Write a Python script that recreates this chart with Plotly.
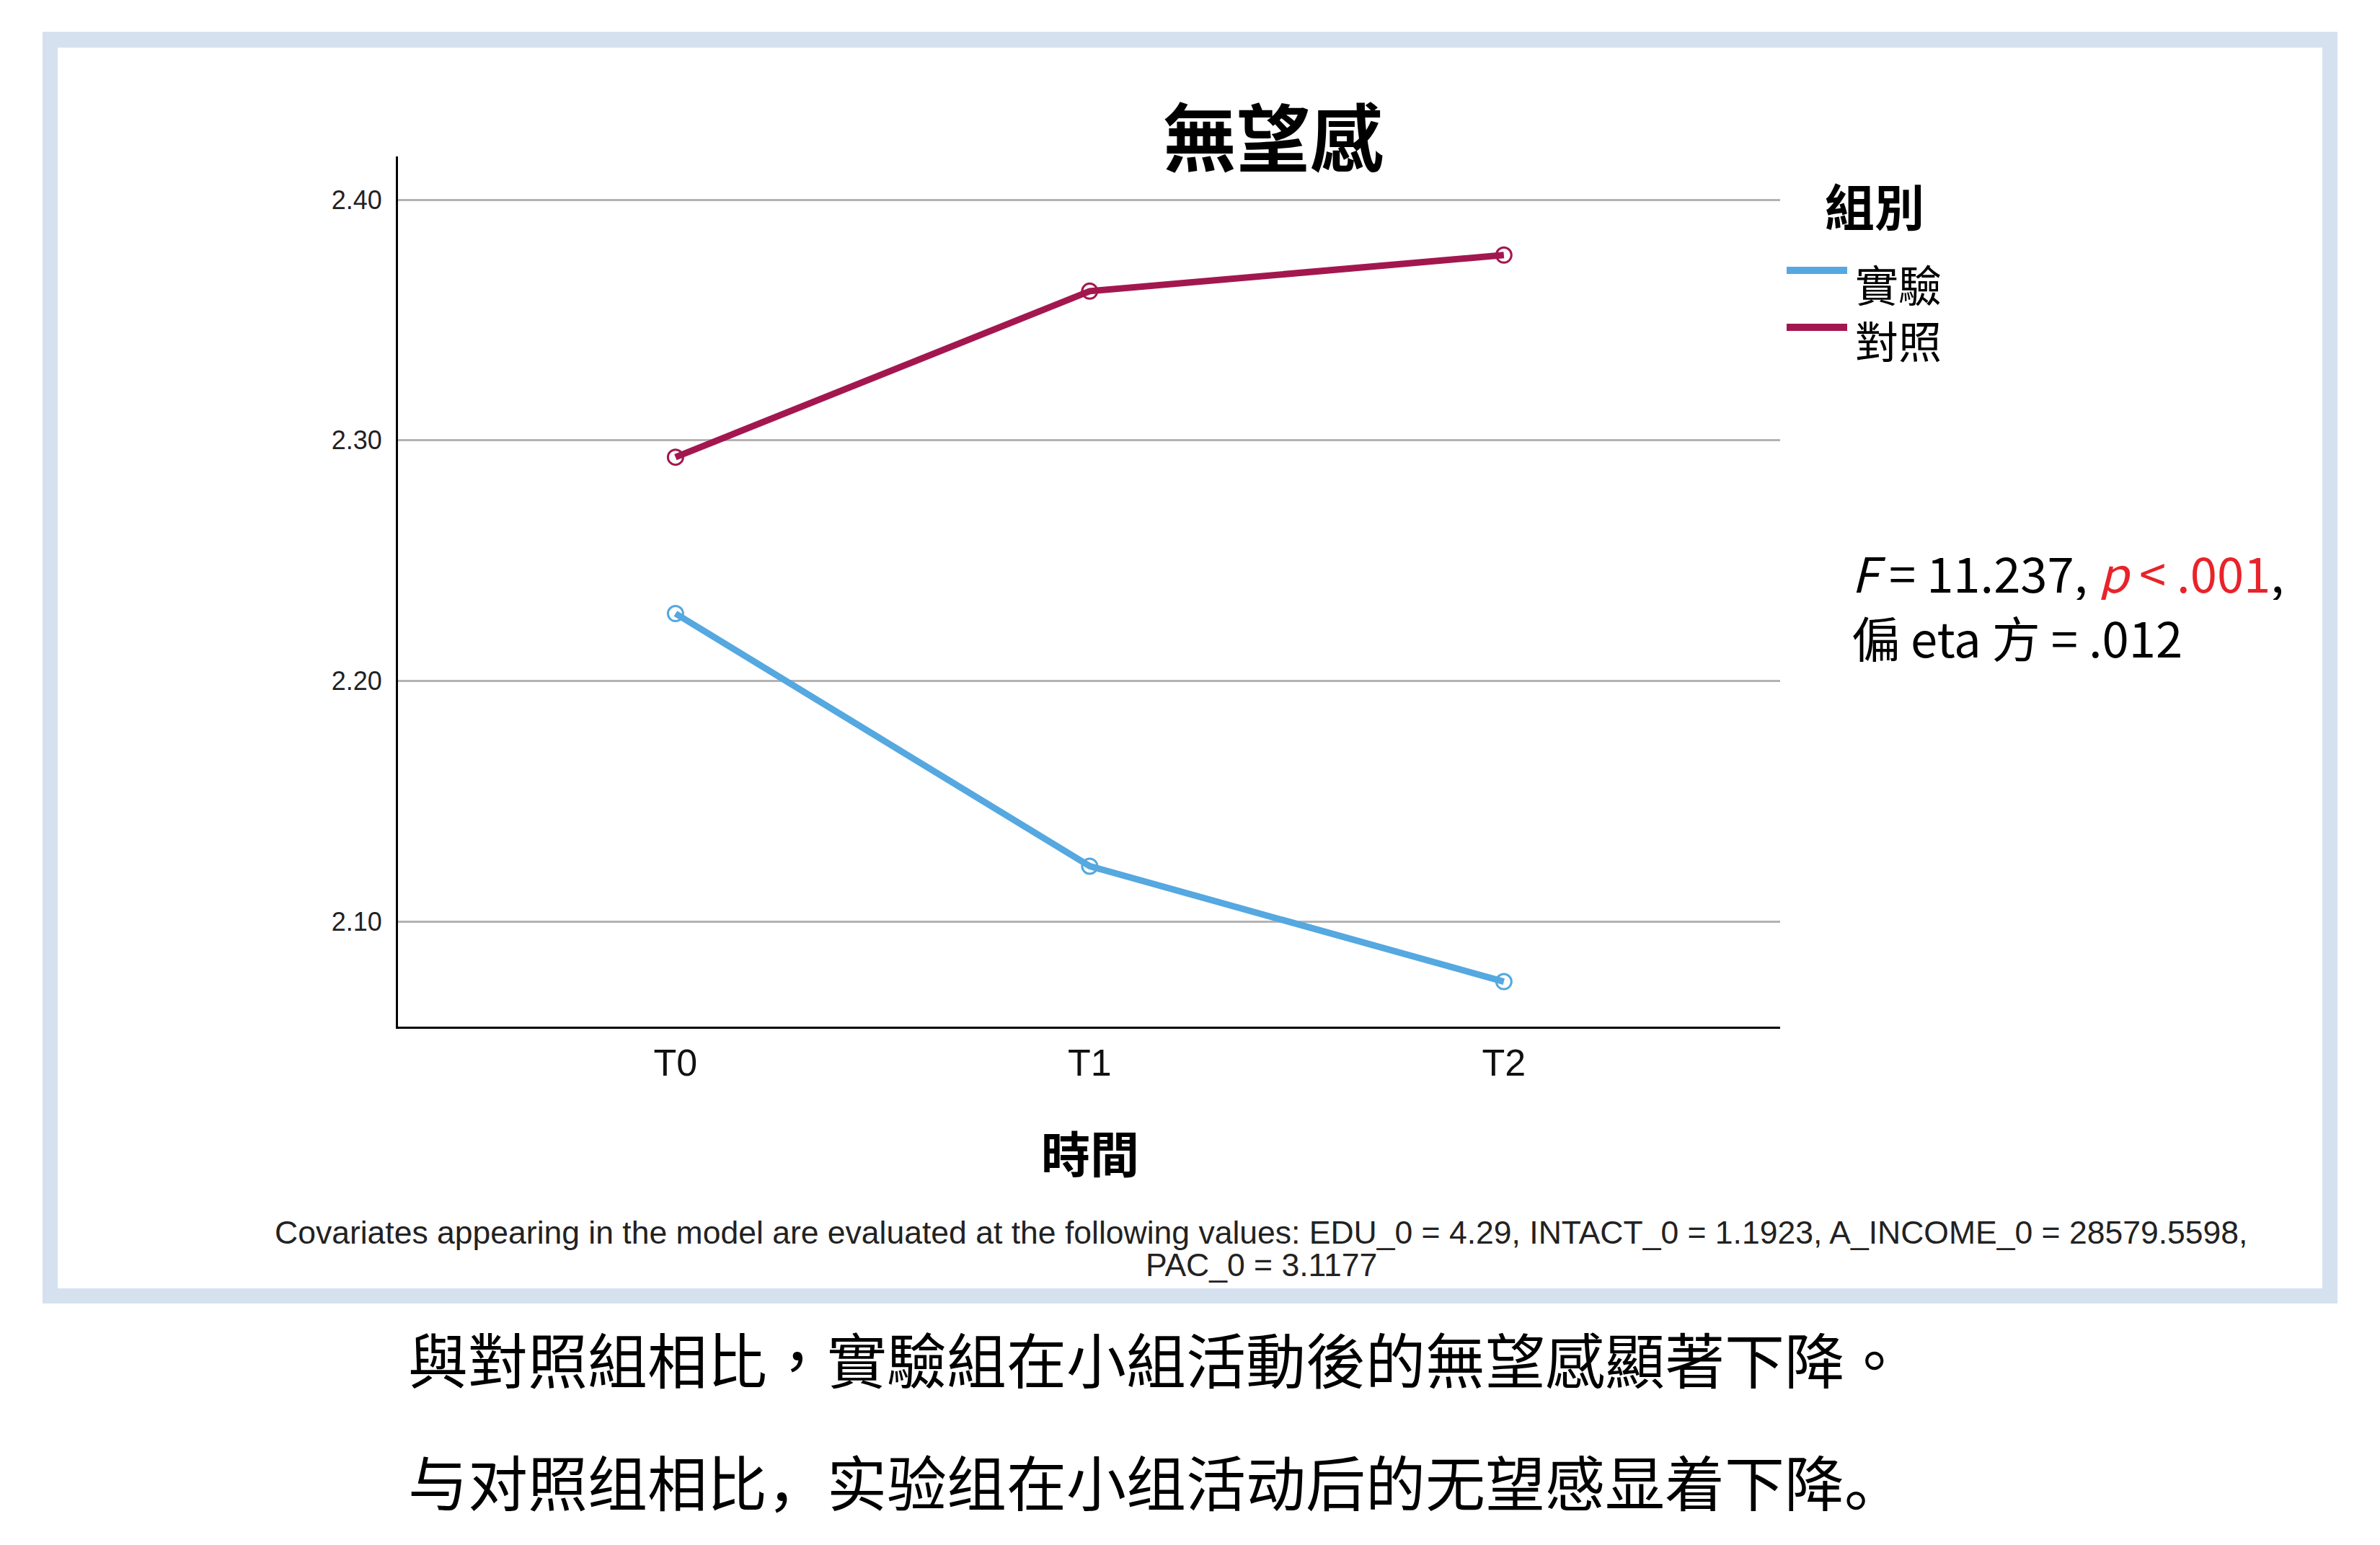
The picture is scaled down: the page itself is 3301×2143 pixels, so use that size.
import plotly.graph_objects as go

W, H = 3301, 2143

# ---- data ----
time_points = ["T0", "T1", "T2"]
group_names = ["實驗", "對照"]
experimental = [2.228, 2.123, 2.075]
control = [2.293, 2.362, 2.377]
y_ticks = [2.10, 2.20, 2.30, 2.40]
y_tick_labels = ["2.10", "2.20", "2.30", "2.40"]
colors = ["#55A8E0", "#A3174F"]

title_text = "無望感"
x_title = "時間"
legend_title = "組別"
covariate_line1 = ("Covariates appearing in the model are evaluated at the following values: "
                   "EDU_0 = 4.29, INTACT_0 = 1.1923, A_INCOME_0 = 28579.5598,")
covariate_line2 = "PAC_0 = 3.1177"
stat_line1 = "<i>F</i> = 11.237, <span style='color:#E8232A'><i>p</i> &lt; .001</span>,"
stat_line2 = "偏 eta 方 = .012"
caption_tc = "與對照組相比，實驗組在小組活動後的無望感顯著下降。"
caption_sc = "与对照组相比，实验组在小组活动后的无望感显着下降。"


def px(x):
    return x / W


def py(y):
    return 1 - y / H


fig = go.Figure()
for name, vals, col in zip(group_names, [experimental, control], colors):
    fig.add_trace(go.Scatter(
        x=list(range(len(time_points))), y=vals, name=name, mode="lines+markers",
        line=dict(color=col, width=9),
        marker=dict(symbol="circle-open", size=21, color=col, line=dict(width=3, color=col)),
        showlegend=False,
    ))

CJK_TC = "Noto Sans CJK TC"
CJK_SC = "Noto Sans CJK SC"

shapes = [
    # frame
    dict(type="rect", xref="paper", yref="paper", x0=px(59), x1=px(3242), y0=py(1808), y1=py(44),
         fillcolor="#D5E1EF", line=dict(width=0), layer="below"),
    dict(type="rect", xref="paper", yref="paper", x0=px(80), x1=px(3221), y0=py(1787), y1=py(66),
         fillcolor="white", line=dict(width=0), layer="below"),
]
annotations = []

# legend
annotations.append(dict(text="<b>" + legend_title + "</b>", x=px(2529), y=py(284), xref="paper", yref="paper",
                        xanchor="left", yanchor="middle", showarrow=False,
                        font=dict(family=CJK_TC, size=69, color="black")))
leg_line_y = [375, 454]
for name, col, ly in zip(group_names, colors, leg_line_y):
    shapes.append(dict(type="line", xref="paper", yref="paper", x0=px(2478), x1=px(2562),
                       y0=py(ly), y1=py(ly), line=dict(color=col, width=10)))
annotations.append(dict(text="<br>".join(group_names), x=px(2571), y=py(431), xref="paper", yref="paper",
                        xanchor="left", yanchor="middle", align="left", showarrow=False,
                        font=dict(family=CJK_TC, size=60, color="black")))

# title
annotations.append(dict(text="<b>" + title_text + "</b>", x=px(1766), y=py(186), xref="paper", yref="paper",
                        xanchor="center", yanchor="middle", showarrow=False,
                        font=dict(family=CJK_TC, size=102, color="black")))
# x title
annotations.append(dict(text="<b>" + x_title + "</b>", x=px(1512), y=py(1597), xref="paper", yref="paper",
                        xanchor="center", yanchor="middle", showarrow=False,
                        font=dict(family=CJK_TC, size=68, color="black")))
# covariates
for txt, yy in [(covariate_line1, 1709), (covariate_line2, 1754)]:
    annotations.append(dict(text=txt, x=px(1749), y=py(yy), xref="paper", yref="paper",
                            xanchor="center", yanchor="middle", showarrow=False, height=52,
                            font=dict(family="Liberation Sans", size=44.5, color="#222222")))
# stats
for txt, yy in [(stat_line1, 792), (stat_line2, 882)]:
    annotations.append(dict(text=txt, x=px(2566), y=py(yy), xref="paper", yref="paper",
                            xanchor="left", yanchor="middle", showarrow=False, height=80,
                            font=dict(family=CJK_TC, size=67, color="black")))
# captions
for txt, fam, yy in [(caption_tc, CJK_TC, 1883), (caption_sc, CJK_SC, 2053)]:
    annotations.append(dict(text=txt, x=px(564), y=py(yy), xref="paper", yref="paper",
                            xanchor="left", yanchor="middle", showarrow=False,
                            font=dict(family=fam, size=83, color="black")))

fig.update_layout(
    width=W, height=H, margin=dict(l=0, r=0, t=0, b=0),
    paper_bgcolor="white", plot_bgcolor="white",
    shapes=shapes, annotations=annotations,
    xaxis=dict(domain=[px(552), px(2469)], range=[-0.67, 2.667],
               tickvals=list(range(len(time_points))), ticktext=time_points,
               showgrid=False, zeroline=False, showline=True, linecolor="black", linewidth=3,
               ticks="", ticklabelstandoff=3,
               tickfont=dict(family="Liberation Sans", size=52, color="#111111")),
    yaxis=dict(domain=[py(1424), py(217)], range=[2.0563, 2.418],
               tickvals=y_ticks, ticktext=y_tick_labels,
               showgrid=True, gridcolor="#B3B3B3", gridwidth=2.5, zeroline=False,
               showline=True, linecolor="black", linewidth=3,
               ticks="", ticklabelstandoff=12,
               tickfont=dict(family="Liberation Sans", size=36, color="#222222")),
)

fig.write_html("out.html")
